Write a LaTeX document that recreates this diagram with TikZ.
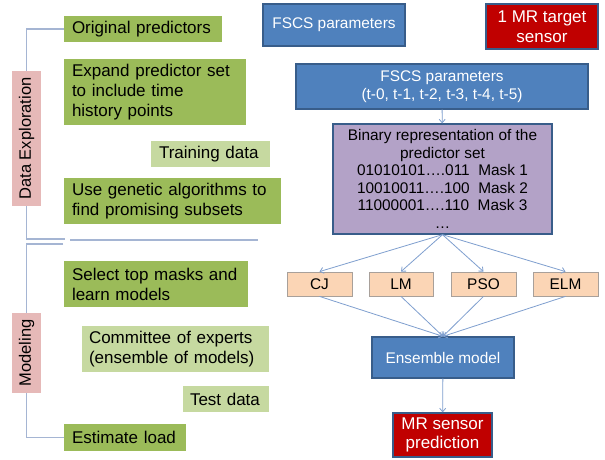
\documentclass[tikz,border=0pt]{standalone}
\usepackage{fontspec}
\setmainfont{Liberation Sans}
\usetikzlibrary{arrows.meta}
\pgfdeclarelayer{background}
\pgfsetlayers{background,main}

\definecolor{leafgreen}{HTML}{9BBB59}
\definecolor{palegreen}{HTML}{C6D9A0}
\definecolor{steelfill}{HTML}{4F81BD}
\definecolor{steeledge}{HTML}{385D8A}
\definecolor{deepred}{HTML}{C00000}
\definecolor{lilac}{HTML}{B3A2C7}
\definecolor{peach}{HTML}{FBD5B5}
\definecolor{peachedge}{HTML}{A8A09A}
\definecolor{rosefill}{HTML}{E6B9B8}
\definecolor{bracketline}{HTML}{A5B5D3}
\definecolor{flowline}{HTML}{7F9FCF}

\begin{document}
\begin{tikzpicture}[x=1pt,y=-1pt,
  stepnote/.style={fill=leafgreen, inner xsep=8pt, inner ysep=0pt, align=left,
    font=\fontsize{17}{20}\selectfont, text=black},
  datanote/.style={stepnote, fill=palegreen, inner xsep=7pt},
  bluebox/.style={fill=steelfill, draw=steeledge, line width=1.3pt, text=white,
    align=center, inner sep=0pt, font=\fontsize{15.4}{18}\selectfont},
  redbox/.style={fill=deepred, draw=steeledge, line width=1.3pt, text=white,
    align=center, inner sep=0pt, font=\fontsize{17}{19.5}\selectfont},
  maskbox/.style={fill=lilac, draw=steeledge, line width=1.3pt, text=black,
    align=center, inner sep=0pt, font=\fontsize{15.4}{17.6}\selectfont},
  learner/.style={fill=peach, draw=peachedge, line width=0.8pt, text=black,
    inner sep=0pt, minimum width=65pt, minimum height=24pt,
    font=\fontsize{15.4}{18}\selectfont},
  phase/.style={fill=rosefill, rotate=90, inner sep=0pt, minimum height=29pt,
    font=\fontsize{16.5}{19}\selectfont},
  bracket/.style={draw=bracketline, line width=1.5pt},
  flow/.style={draw=flowline, line width=0.8pt,
    -{Straight Barb[length=3.5pt,width=6pt]}}
]
% left column: pipeline steps
\node[stepnote, text width=142pt, minimum height=26pt] (orig) at (143,29) {Original predictors};
\node[stepnote, text width=166pt, minimum height=66pt] (expand) at (155,92)
  {Expand predictor set\\to include time\\history points};
\node[datanote, text width=103pt, minimum height=26pt, inner xsep=8pt] (train) at (210.5,154) {Training data};
\node[stepnote, text width=201pt, minimum height=46pt] (genetic) at (172.5,201)
  {Use genetic algorithms to\\find promising subsets};
\node[stepnote, text width=168pt, minimum height=46pt] (select) at (156,284)
  {Select top masks and\\learn models};
\node[datanote, text width=173pt, minimum height=46pt] (committee) at (175.5,349)
  {Committee of experts\\(ensemble of models)};
\node[datanote, text width=72pt, minimum height=26pt] (test) at (226,399) {Test data};
\node[stepnote, text width=106pt, minimum height=27pt] (estimate) at (125,437.5) {Estimate load};

% phase labels
\node[phase, minimum width=135pt] (explore) at (26.5,138.5) {Data Exploration};
\node[phase, minimum width=80pt] (modeling) at (26.5,353) {Modeling};

% phase brackets and the separator between them, under the white page
\coordinate (exploreEnd) at (65,239);
\coordinate (modelStart) at (63,244);
\coordinate (sepL) at (70,240);
\coordinate (sepR) at (258,240);
\begin{pgfonlayer}{background}
  \fill[white] (0,0) rectangle (605,460);
  \draw[bracket] (orig.west) -| (explore.center |- exploreEnd) -- (exploreEnd);
  \draw[bracket] (modelStart) -| (modeling.center |- estimate.west) -- (estimate.west);
  \draw[bracket] (sepL) -- (sepR);
\end{pgfonlayer}

% right column: data flow
\node[bluebox, minimum width=142pt, minimum height=42pt] (fscs) at (334,25) {FSCS parameters};
\node[redbox, minimum width=112pt, minimum height=45pt] (target) at (542,26.5) {1 MR target\\sensor};
\node[bluebox, minimum width=292pt, minimum height=45pt] (history) at (442,86.5)
  {FSCS parameters\\(t-0, t-1, t-2, t-3, t-4, t-5)};
\node[maskbox, minimum width=219pt, minimum height=110pt] (masks) at (442.5,179)
  {Binary representation of the\\predictor set\\
   01010101….011\ \ Mask 1\\10010011….100\ \ Mask 2\\11000001….110\ \ Mask 3\\…};

\node[learner] (cj) at (319.5,284) {CJ};
\node[learner, minimum width=64pt] (lm) at (401,284) {LM};
\node[learner] (pso) at (483.5,284) {PSO};
\node[learner] (elm) at (565.5,284) {ELM};

\node[bluebox, minimum width=142pt, minimum height=41pt] (ensemble) at (443,357.5) {Ensemble model};
\node[redbox, minimum width=99pt, minimum height=44pt] (prediction) at (442.5,435) {MR sensor\\prediction};

\draw[flow] (history) -- (masks);
\foreach \m in {cj,lm,pso,elm} {
  \draw[flow] (masks.south) -- (\m.north);
  \draw[flow] (\m.south) -- (ensemble.north);
}
\draw[flow] (ensemble) -- (prediction);
\end{tikzpicture}
\end{document}
